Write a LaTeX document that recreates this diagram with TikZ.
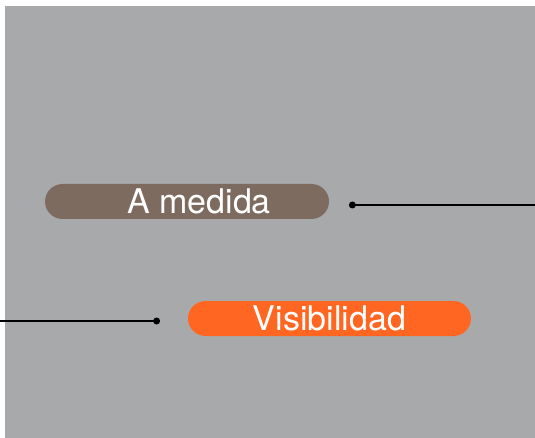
\documentclass[tikz,border=0pt]{standalone}
\usepackage{fontspec}
\setmainfont{TeX Gyre Heros}
\usetikzlibrary{
	positioning,
	calc
}
\definecolor{bggray}{HTML}{A8A9AB}
\definecolor{pillbrown}{HTML}{7D6B60}
\definecolor{pillorange}{HTML}{FF6622}

\begin{document}
\begin{tikzpicture}[x=1pt,y=-1pt,node distance=20pt,
	pill/.style={rounded corners=17.5pt,minimum height=35pt,inner sep=0pt,text=white,font=\fontsize{34}{36}\selectfont},
	dot/.style={circle,fill=black,inner sep=0pt,minimum size=7pt},
	wire/.style={line width=1.8pt}]
	\useasboundingbox (0,0) rectangle (535,438);
	\fill[bggray] (5,6) rectangle (535,438);

	\node[pill,fill=pillbrown,minimum width=284pt] (medida) at (187,201.5) {\hspace*{24pt}A medida};
	\node[pill,fill=pillorange,minimum width=283pt] (visib) at (329.5,318.5) {Visibilidad};

	\node[dot,right=19.5pt of medida,yshift=-3.5pt] (medida_dot) {};
	\node[dot,left=27.5pt of visib,yshift=-2.5pt] (visib_dot) {};

	\coordinate (medida_end) at (535,205);
	\coordinate (visib_end) at (0,321);

	\draw[wire] (medida_dot.center) -- (medida_end);
	\draw[wire] (visib_dot.center) -- (visib_end);
\end{tikzpicture}
\end{document}
